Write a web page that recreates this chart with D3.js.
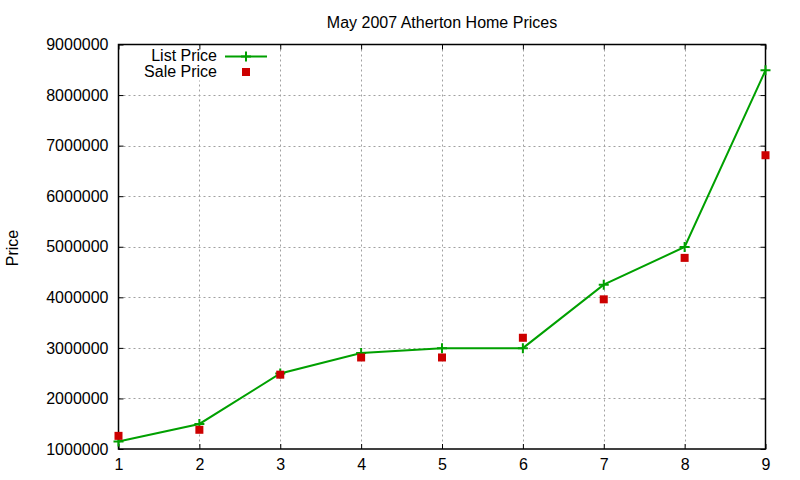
<!DOCTYPE html>
<html>
<head>
<meta charset="utf-8">
<script src="https://cdn.jsdelivr.net/npm/d3@7"></script>
<style>
  body { margin: 0; background: #fff; }
  text { font-family: "Liberation Sans", Arial, sans-serif; font-size: 16px; fill: #000; }
</style>
</head>
<body>
<div class="svg-container"></div>
<script>
let houses = [1, 2, 3, 4, 5, 6, 7, 8, 9];
let listPrice = [1150000, 1495000, 2495000, 2900000, 2995000, 2995000, 4250000, 4995000, 8490000];
let salePrice = [1260000, 1380000, 2470000, 2810000, 2810000, 3200000, 3960000, 4780000, 6810000];
let xTicks = [1, 2, 3, 4, 5, 6, 7, 8, 9];
let yTicks = [1000000, 2000000, 3000000, 4000000, 5000000, 6000000, 7000000, 8000000, 9000000];

function drawChart () {
  let width = 800;
  let height = 480;
  let left = 118.5;
  let right = 765.5;
  let top = 44.5;
  let bottom = 449;

  let xScale = d3.scaleLinear()
    .domain([1, 9])
    .range([left, right])

  let yScale = d3.scaleLinear()
    .domain([1000000, 9000000])
    .range([bottom, top])

  let svg = d3.select('.svg-container')
    .append('svg')
    .attr('width', width)
    .attr('height', height)

  // grid
  let grid = svg.append('g')
    .attr('stroke', '#a0a0a0')
    .attr('stroke-width', 1)
    .attr('stroke-dasharray', '2,3')

  grid.selectAll('.vgrid')
    .data(xTicks.slice(1, -1))
    .enter()
    .append('line')
    .attr('x1', d => Math.round(xScale(d)) + 0.5)
    .attr('x2', d => Math.round(xScale(d)) + 0.5)
    .attr('y1', top)
    .attr('y2', bottom)

  grid.selectAll('.hgrid')
    .data(yTicks.slice(1, -1))
    .enter()
    .append('line')
    .attr('x1', left)
    .attr('x2', right)
    .attr('y1', d => Math.round(yScale(d)) + 0.5)
    .attr('y2', d => Math.round(yScale(d)) + 0.5)

  // key area hides grid
  svg.append('rect')
    .attr('x', left + 1)
    .attr('y', top + 1)
    .attr('width', 154)
    .attr('height', 35)
    .attr('fill', '#fff')

  // axes with inward ticks, mirrored
  let xAxis = d3.axisBottom(xScale)
    .tickValues(xTicks)
    .tickSize(-5)
    .tickPadding(10)
    .tickFormat(d3.format('d'))

  let xAxisTop = d3.axisTop(xScale)
    .tickValues(xTicks)
    .tickSize(-5)
    .tickFormat('')

  let yAxis = d3.axisLeft(yScale)
    .tickValues(yTicks)
    .tickSize(-5)
    .tickPadding(10)
    .tickFormat(d3.format('d'))

  let yAxisRight = d3.axisRight(yScale)
    .tickValues(yTicks)
    .tickSize(-5)
    .tickFormat('')

  let styleAxis = g => {
    g.select('.domain').remove()
    g.selectAll('line').attr('stroke', '#000').attr('stroke-width', 1)
    g.selectAll('text').attr('font-family', null).attr('font-size', null)
  }

  svg.append('g')
    .attr('transform', `translate(0, ${bottom})`)
    .attr('font-family', null)
    .call(xAxis)
    .call(styleAxis)
    .selectAll('text')
    .attr('dy', '0.71em')

  svg.append('g')
    .attr('transform', `translate(0, ${top})`)
    .call(xAxisTop)
    .call(styleAxis)

  svg.append('g')
    .attr('transform', `translate(${left}, 0)`)
    .call(yAxis)
    .call(styleAxis)

  svg.append('g')
    .attr('transform', `translate(${right}, 0)`)
    .call(yAxisRight)
    .call(styleAxis)

  svg.append('rect')
    .attr('x', left)
    .attr('y', top)
    .attr('width', right - left)
    .attr('height', bottom - top)
    .attr('fill', 'none')
    .attr('stroke', '#000')
    .attr('stroke-width', 1.5)

  // title and y label
  svg.append('text')
    .attr('x', (left + right) / 2)
    .attr('y', 28)
    .style('text-anchor', 'middle')
    .text('May 2007 Atherton Home Prices')

  svg.append('text')
    .attr('transform', 'translate(18, 248) rotate(-90)')
    .style('text-anchor', 'middle')
    .text('Price')

  let green = '#00a000';
  let red = '#cc0000';

  // list price line
  let line = d3.line()
    .x((d, i) => xScale(houses[i]))
    .y(d => yScale(d))

  svg.append('path')
    .datum(listPrice)
    .attr('d', line)
    .attr('fill', 'none')
    .attr('stroke', green)
    .attr('stroke-width', 2)

  let plus = d3.symbol().type(d3.symbolCross).size(0)
  let drawPlus = (g, x, y) => {
    g.append('path')
      .attr('d', `M${x - 5},${y}H${x + 5}M${x},${y - 5}V${y + 5}`)
      .attr('stroke', green)
      .attr('stroke-width', 2)
  }

  let plusGroup = svg.append('g')
  listPrice.forEach((d, i) => drawPlus(plusGroup, xScale(houses[i]), yScale(d)))

  // sale price points
  svg.selectAll('.sale')
    .data(salePrice)
    .enter()
    .append('rect')
    .attr('x', (d, i) => xScale(houses[i]) - 4)
    .attr('y', d => yScale(d) - 4)
    .attr('width', 8)
    .attr('height', 8)
    .attr('fill', red)

  // key
  svg.append('text')
    .attr('x', 217)
    .attr('y', 61)
    .style('text-anchor', 'end')
    .text('List Price')

  svg.append('line')
    .attr('x1', 225)
    .attr('x2', 267)
    .attr('y1', 56.5)
    .attr('y2', 56.5)
    .attr('stroke', green)
    .attr('stroke-width', 2)

  drawPlus(svg, 246, 56.5)

  svg.append('text')
    .attr('x', 217)
    .attr('y', 77)
    .style('text-anchor', 'end')
    .text('Sale Price')

  svg.append('rect')
    .attr('x', 242)
    .attr('y', 68)
    .attr('width', 8)
    .attr('height', 8)
    .attr('fill', red)
}

drawChart();
</script>
</body>
</html>
